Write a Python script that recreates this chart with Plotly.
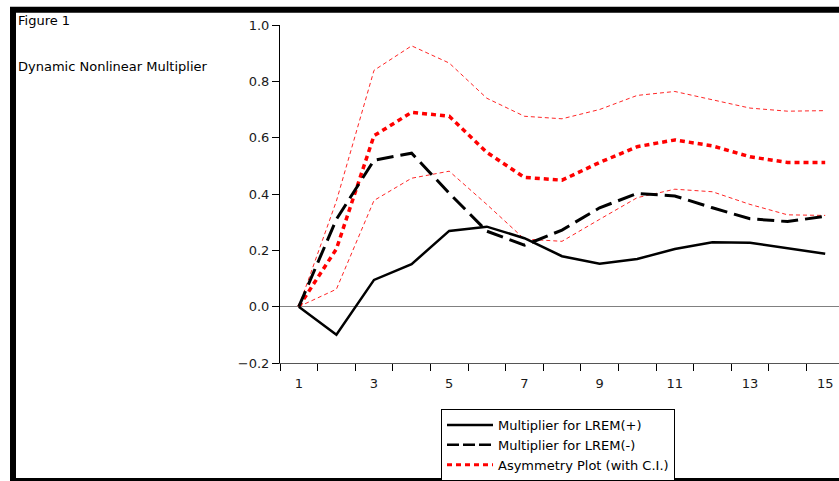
import plotly.graph_objects as go

periods = list(range(1, 16))
mult_pos = [0, -0.10, 0.095, 0.151, 0.269, 0.284, 0.243, 0.179, 0.152, 0.169, 0.205, 0.229, 0.227, 0.207, 0.188]
mult_neg = [0, 0.31, 0.52, 0.545, 0.403, 0.268, 0.218, 0.272, 0.351, 0.402, 0.393, 0.351, 0.312, 0.302, 0.321]
asym = [0, 0.205, 0.607, 0.69, 0.676, 0.548, 0.459, 0.449, 0.512, 0.568, 0.592, 0.571, 0.532, 0.512, 0.512]
upper_ci = [0, 0.375, 0.839, 0.926, 0.865, 0.74, 0.676, 0.667, 0.70, 0.75, 0.764, 0.735, 0.705, 0.694, 0.696]
lower_ci = [0, 0.062, 0.377, 0.456, 0.481, 0.363, 0.24, 0.232, 0.31, 0.387, 0.417, 0.408, 0.363, 0.326, 0.324]
x_tick_labels = [1, 3, 5, 7, 9, 11, 13, 15]
y_tick_vals = [-0.2, 0.0, 0.2, 0.4, 0.6, 0.8, 1.0]

W, H = 839, 481
L, R, T, B = 280, 0, 25, H - 363
pw, ph = W - L - R, H - T - B
px_per_cat = 37.6

def px_x(p):  # viewport px -> paper x
    return (p - L) / pw

def px_y(p):  # viewport px -> paper y
    return (H - B - p) / ph

FONT = "DejaVu Sans, Liberation Sans, Arial, sans-serif"

fig = go.Figure()
fig.add_trace(go.Scatter(x=periods, y=upper_ci, mode="lines", showlegend=False,
                         line=dict(color="rgba(255,0,0,0.85)", width=1, dash="4px,3px")))
fig.add_trace(go.Scatter(x=periods, y=lower_ci, mode="lines", showlegend=False,
                         line=dict(color="rgba(255,0,0,0.85)", width=1, dash="4px,3px")))
fig.add_trace(go.Scatter(x=periods, y=asym, mode="lines", showlegend=False,
                         line=dict(color="#ff0000", width=3.5, dash="5px,4px")))
fig.add_trace(go.Scatter(x=periods, y=mult_neg, mode="lines", showlegend=False,
                         line=dict(color="black", width=3, dash="17px,7px")))
fig.add_trace(go.Scatter(x=periods, y=mult_pos, mode="lines", showlegend=False,
                         line=dict(color="black", width=2.5)))

# legend entries (ordered)
fig.add_trace(go.Scatter(x=[None], y=[None], mode="lines", name="Multiplier for LREM(+)",
                         line=dict(color="black", width=2.5)))
fig.add_trace(go.Scatter(x=[None], y=[None], mode="lines", name="Multiplier for LREM(-)",
                         line=dict(color="black", width=2.5, dash="12px,4px")))
fig.add_trace(go.Scatter(x=[None], y=[None], mode="lines", name="Asymmetry Plot (with C.I.)",
                         line=dict(color="#ff0000", width=3, dash="5px,4px")))

fig.update_layout(
    width=W, height=H,
    margin=dict(l=L, r=R, t=T, b=B, pad=0),
    paper_bgcolor="white", plot_bgcolor="white",
    font=dict(family=FONT, size=13, color="#1a1a1a"),
    showlegend=True,
    legend=dict(x=px_x(441), y=px_y(409), xanchor="left", yanchor="top",
                bordercolor="black", borderwidth=1, bgcolor="white",
                font=dict(size=13, color="black"), tracegroupgap=0,
                traceorder="normal", itemwidth=46),
    xaxis=dict(range=[0.5, 0.5 + pw / px_per_cat], showgrid=False, zeroline=False,
               showline=True, linecolor="#555555", linewidth=1,
               tickmode="array", tickvals=x_tick_labels,
               ticktext=[str(v) for v in x_tick_labels], ticks="",
               ticklabelstandoff=8,
               tickfont=dict(size=13, color="#1a1a1a"),
               minor=dict(tick0=0.5, dtick=1, ticks="outside", ticklen=7,
                          tickcolor="black", tickwidth=1, showgrid=False)),
    yaxis=dict(range=[-0.2, 1.0], showgrid=False,
               zeroline=True, zerolinecolor="#808080", zerolinewidth=1,
               showline=True, linecolor="black", linewidth=1,
               tickmode="array", tickvals=y_tick_vals, tickformat=".1f",
               ticks="outside", ticklen=7, tickcolor="black",
               tickfont=dict(size=13, color="#1a1a1a")),
    annotations=[
        dict(text="Figure 1", xref="paper", yref="paper", x=px_x(16), y=px_y(20),
             xanchor="left", yanchor="middle", showarrow=False,
             font=dict(size=13, color="black")),
        dict(text="Dynamic Nonlinear Multiplier", xref="paper", yref="paper",
             x=px_x(16), y=px_y(67), xanchor="left", yanchor="middle", showarrow=False,
             font=dict(size=13, color="black")),
    ],
    shapes=[
        dict(type="rect", xref="paper", yref="paper", x0=px_x(13), x1=px_x(880),
             y0=px_y(481), y1=px_y(9.7), line=dict(color="black", width=6),
             fillcolor="rgba(0,0,0,0)", layer="above"),
    ],
)

fig.write_html(
    "out.html",
    config={"displayModeBar": False, "staticPlot": True},
    post_script=("document.documentElement.style.margin='0';"
                 "document.body.style.margin='0';"
                 "document.documentElement.style.overflow='hidden';"
                 "document.body.style.overflow='hidden';"),
)
